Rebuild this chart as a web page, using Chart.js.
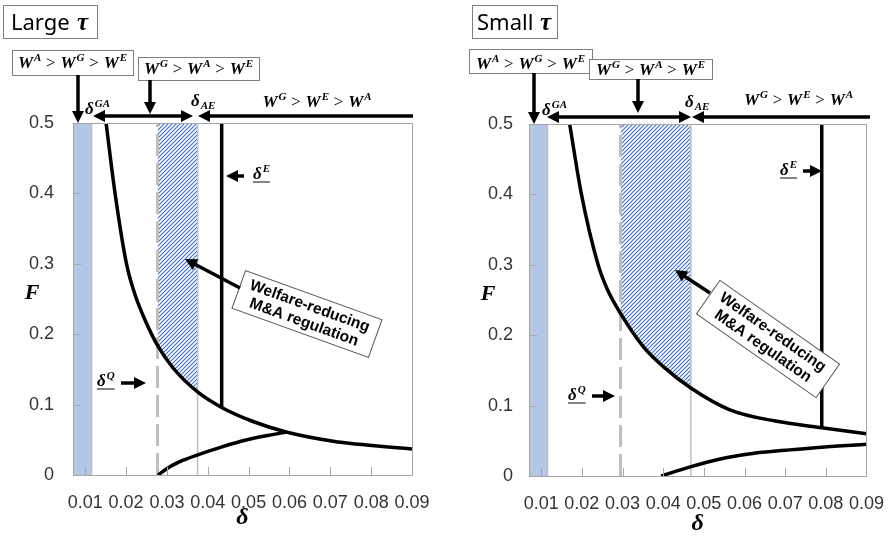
<!DOCTYPE html>
<html>
<head>
<meta charset="utf-8">
<script src="https://cdn.jsdelivr.net/npm/chart.js@4.4.1/dist/chart.umd.min.js"></script>
<style>
  html, body { margin: 0; padding: 0; background: #fff; }
  #wrap { position: relative; width: 893px; height: 536px; overflow: hidden; }
  canvas { position: absolute; top: 0; }
</style>
</head>
<body>
<div id="wrap">
  <canvas id="large" width="445" height="536" style="left:0"></canvas>
  <canvas id="small" width="448" height="536" style="left:445px"></canvas>
</div>
<script>
// axes
const xTicks = [0.01, 0.02, 0.03, 0.04, 0.05, 0.06, 0.07, 0.08, 0.09];
const yTicks = [0, 0.1, 0.2, 0.3, 0.4, 0.5];
const deltaRange = [0.007, 0.09];
const fRange = [0, 0.5];

// Large tau
const largeUpperDelta = [0.0151, 0.0173, 0.0201, 0.0222, 0.0245, 0.0277, 0.0315, 0.0375, 0.0434, 0.0511, 0.0592, 0.0707, 0.09];
const largeUpperF     = [0.5, 0.4, 0.3, 0.256, 0.222, 0.184, 0.152, 0.118, 0.096, 0.076, 0.061, 0.048, 0.037];
const largeLowerDelta = [0.0278, 0.0308, 0.0340, 0.0372, 0.0435, 0.0496, 0.0550, 0.0592];
const largeLowerF     = [0, 0.012, 0.021, 0.028, 0.040, 0.050, 0.0565, 0.061];
const largeCuts = [0.0115, 0.0277, 0.0375, 0.0434]; // delta GA, delta Q, delta AE, delta E
const largeDeltaEFloor = 0.096;

// Small tau
const smallUpperDelta = [0.0170, 0.0199, 0.0240, 0.0262, 0.0295, 0.0352, 0.0401, 0.0468, 0.0564, 0.0676, 0.0790, 0.09];
const smallUpperF     = [0.5, 0.4, 0.3, 0.266, 0.231, 0.183, 0.155, 0.125, 0.094, 0.078, 0.0685, 0.060];
const smallLowerDelta = [0.0395, 0.0467, 0.0535, 0.0620, 0.0700, 0.0790, 0.09];
const smallLowerF     = [0, 0.013, 0.0235, 0.032, 0.0365, 0.041, 0.045];
const smallCuts = [0.0115, 0.0295, 0.0468, 0.0790];
const smallDeltaEFloor = 0.0685;

const SERIF = '"Liberation Serif", "DejaVu Serif", serif';
const SANS = '"Liberation Sans", Arial, sans-serif';

function zip(xs, ys) { return xs.map((x, i) => ({ x: x, y: ys[i] })); }
function vline(x, y0, y1) { return [{ x: x, y: y0 }, { x: x, y: y1 }]; }

function hatch() {
  const c = document.createElement('canvas');
  c.width = 4; c.height = 4;
  const p = c.getContext('2d');
  p.fillStyle = '#fff';
  p.fillRect(0, 0, 4, 4);
  p.strokeStyle = '#3f6fcc';
  p.lineWidth = 1.1;
  p.beginPath();
  p.moveTo(-1, 5); p.lineTo(5, -1);
  p.moveTo(-1, 1); p.lineTo(1, -1);
  p.moveTo(3, 5); p.lineTo(5, 3);
  p.stroke();
  return p.createPattern(c, 'repeat');
}

// ---- drawing helpers for the overlay ----
function drawMath(ctx, str, x, y, size, align) {
  const fb = 'italic bold ' + size + 'px ' + SERIF;
  const fs = 'italic bold ' + Math.round(size * 0.66) + 'px ' + SERIF;
  const fo = size + 'px ' + SERIF;
  const gap = size * 0.28;
  const items = [];
  let w = 0;
  str.split(' ').forEach(tok => {
    if (tok === '>') {
      ctx.font = fo;
      items.push({ t: '>', f: fo, dx: w + gap, dy: 0 });
      w += ctx.measureText('>').width + 2 * gap;
      return;
    }
    const m = tok.match(/^(.)([\^_]?)(.*)$/);
    ctx.font = fb;
    items.push({ t: m[1], f: fb, dx: w, dy: 0 });
    w += ctx.measureText(m[1]).width + 1;
    if (m[3]) {
      ctx.font = fs;
      items.push({ t: m[3], f: fs, dx: w, dy: m[2] === '^' ? -size * 0.42 : size * 0.2 });
      w += ctx.measureText(m[3]).width;
    }
  });
  const x0 = align === 'center' ? x - w / 2 : x;
  ctx.save();
  ctx.textAlign = 'left';
  ctx.textBaseline = 'alphabetic';
  ctx.fillStyle = '#000';
  items.forEach(it => { ctx.font = it.f; ctx.fillText(it.t, x0 + it.dx, y + it.dy); });
  ctx.restore();
  return w;
}

function underlined(ctx, str, x, y, size) {
  const w = drawMath(ctx, str, x, y, size, 'left');
  ctx.save();
  ctx.strokeStyle = '#333';
  ctx.lineWidth = 1.2;
  ctx.beginPath();
  ctx.moveTo(x, y + 3); ctx.lineTo(x + w, y + 3);
  ctx.stroke();
  ctx.restore();
}

function box(ctx, x, y, w, h) {
  ctx.save();
  ctx.fillStyle = '#fff';
  ctx.fillRect(x, y, w, h);
  ctx.strokeStyle = '#7f7f7f';
  ctx.lineWidth = 1;
  ctx.strokeRect(x + 0.5, y + 0.5, w, h);
  ctx.restore();
}

function head(ctx, x, y, a, hl, hw) {
  ctx.beginPath();
  ctx.moveTo(x, y);
  ctx.lineTo(x - hl * Math.cos(a) + hw / 2 * Math.sin(a), y - hl * Math.sin(a) - hw / 2 * Math.cos(a));
  ctx.lineTo(x - hl * Math.cos(a) - hw / 2 * Math.sin(a), y - hl * Math.sin(a) + hw / 2 * Math.cos(a));
  ctx.closePath();
  ctx.fill();
}

function arrow(ctx, x1, y1, x2, y2, both) {
  const hl = 12, hw = 12;
  const a = Math.atan2(y2 - y1, x2 - x1);
  const c = Math.cos(a), s = Math.sin(a);
  ctx.save();
  ctx.strokeStyle = ctx.fillStyle = '#000';
  ctx.lineWidth = 3.5;
  ctx.beginPath();
  ctx.moveTo(both ? x1 + c * hl * 0.8 : x1, both ? y1 + s * hl * 0.8 : y1);
  ctx.lineTo(x2 - c * hl * 0.8, y2 - s * hl * 0.8);
  ctx.stroke();
  head(ctx, x2, y2, a, hl, hw);
  if (both) head(ctx, x1, y1, a + Math.PI, hl, hw);
  ctx.restore();
}

function noteBox(ctx, cx, cy, w, h, deg) {
  ctx.save();
  ctx.translate(cx, cy);
  ctx.rotate(deg * Math.PI / 180);
  ctx.fillStyle = '#fff';
  ctx.fillRect(-w / 2, -h / 2, w, h);
  ctx.strokeStyle = '#555';
  ctx.lineWidth = 1;
  ctx.strokeRect(-w / 2, -h / 2, w, h);
  ctx.fillStyle = '#000';
  ctx.font = 'bold 15.5px ' + SANS;
  ctx.textAlign = 'center';
  ctx.textBaseline = 'middle';
  ctx.fillText('Welfare-reducing', 0, -8);
  ctx.fillText('M&A regulation', 0, 9);
  ctx.restore();
}

function panelTitle(ctx, x, y, w, h, word, tx, taux) {
  box(ctx, x, y, w, h);
  ctx.save();
  ctx.fillStyle = '#000';
  ctx.textBaseline = 'alphabetic';
  ctx.font = '22px "Noto Sans", ' + SANS;
  ctx.fillText(word, tx, 30);
  ctx.font = 'italic bold 25px ' + SERIF;
  ctx.fillText('τ', taux, 30);
  ctx.restore();
}

function yTitle(ctx, x, y) {
  ctx.save();
  ctx.fillStyle = '#000';
  ctx.font = 'italic bold 22px ' + SERIF;
  ctx.textAlign = 'center';
  ctx.textBaseline = 'middle';
  ctx.fillText('F', x, y);
  ctx.restore();
}

function drawLarge(ctx) {
  panelTitle(ctx, 3, 5, 94, 33, 'Large', 11, 77);
  box(ctx, 12, 50, 121, 25);
  drawMath(ctx, 'W^A > W^G > W^E', 72.5, 68, 17, 'center');
  arrow(ctx, 78, 75, 78, 123);
  box(ctx, 138, 57, 121, 23);
  drawMath(ctx, 'W^G > W^A > W^E', 198.5, 74, 17, 'center');
  arrow(ctx, 150, 80, 150, 114);
  drawMath(ctx, 'δ^GA', 85, 114, 17, 'left');
  arrow(ctx, 93, 116, 193, 116, true);
  drawMath(ctx, 'δ_AE', 191, 106, 17, 'left');
  arrow(ctx, 413, 116, 198, 116);
  drawMath(ctx, 'W^G > W^E > W^A', 317, 107, 17, 'center');
  arrow(ctx, 244, 176, 226, 176);
  underlined(ctx, 'δ^E', 253, 179, 17);
  underlined(ctx, 'δ^Q', 97, 386, 17);
  arrow(ctx, 121, 383, 146, 383);
  noteBox(ctx, 307, 314, 145, 40, 19.8);
  arrow(ctx, 240, 288, 185, 259);
  yTitle(ctx, 32, 293);
}

function drawSmall(ctx) {
  panelTitle(ctx, 27, 5, 85, 33, 'Small', 32, 95);
  box(ctx, 24, 49, 123, 24);
  drawMath(ctx, 'W^A > W^G > W^E', 85.5, 69, 17, 'center');
  box(ctx, 144, 59, 123, 20);
  drawMath(ctx, 'W^G > W^A > W^E', 205.5, 75, 17, 'center');
  arrow(ctx, 89, 73, 89, 124);
  arrow(ctx, 193, 79, 193, 113);
  drawMath(ctx, 'δ^GA', 97, 115, 17, 'left');
  arrow(ctx, 102, 117, 246, 117, true);
  drawMath(ctx, 'δ_AE', 240, 107, 17, 'left');
  arrow(ctx, 425, 117, 247, 117);
  drawMath(ctx, 'W^G > W^E > W^A', 353.5, 105, 17, 'center');
  underlined(ctx, 'δ^E', 335, 175, 17);
  arrow(ctx, 358, 171, 377, 171);
  underlined(ctx, 'δ^Q', 123, 400, 17);
  arrow(ctx, 147, 396, 170, 396);
  noteBox(ctx, 323, 339, 146, 41, 35);
  arrow(ctx, 265, 293, 230, 270);
  yTitle(ctx, 43, 294);
}

// frame and inward tick marks
const frameTicks = {
  id: 'frameTicks',
  afterDatasetsDraw(chart) {
    const { ctx, chartArea: a, scales: { x, y } } = chart;
    ctx.save();
    ctx.strokeStyle = '#a6a6a6';
    ctx.lineWidth = 1;
    ctx.beginPath();
    x.ticks.forEach(t => {
      const px = Math.round(x.getPixelForValue(t.value)) + 0.5;
      ctx.moveTo(px, a.bottom); ctx.lineTo(px, a.bottom - 8);
    });
    y.ticks.forEach(t => {
      const py = Math.round(y.getPixelForValue(t.value)) + 0.5;
      ctx.moveTo(a.left, py); ctx.lineTo(a.left + 8, py);
    });
    ctx.stroke();
    ctx.strokeRect(Math.round(a.left) + 0.5, Math.round(a.top) + 0.5,
                   Math.round(a.right - a.left), Math.round(a.bottom - a.top));
    ctx.restore();
  }
};

function makePanel(id, upD, upF, loD, loF, cuts, eFloor, lay, overlay) {
  const upper = zip(upD, upF);
  const lower = zip(loD, loF);
  const shaded = upper.filter(p => p.x >= cuts[1] && p.x <= cuts[2]);
  const pattern = hatch();
  const curve = { borderColor: '#000', borderWidth: 3.5, cubicInterpolationMode: 'monotone', fill: false };
  return new Chart(document.getElementById(id), {
    type: 'scatter',
    data: {
      datasets: [
        Object.assign({ data: upper }, curve),
        Object.assign({ data: lower }, curve),
        { data: vline(cuts[3], eFloor, fRange[1]), borderColor: '#000', borderWidth: 3.5, fill: false },
        { data: vline(cuts[1], fRange[0], fRange[1]), borderColor: '#bfbfbf', borderWidth: 3, borderDash: [22, 7], fill: false },
        { data: vline(cuts[2], fRange[0], fRange[1]), borderColor: '#bfbfbf', borderWidth: 1.5, fill: false },
        { data: vline(cuts[0], fRange[0], fRange[1]), borderColor: '#bfbfbf', borderWidth: 2, fill: false },
        { data: shaded, borderWidth: 0, borderColor: 'rgba(0,0,0,0)', backgroundColor: pattern, fill: 'end', cubicInterpolationMode: 'monotone' },
        { data: [{ x: deltaRange[0], y: fRange[1] }, { x: cuts[0], y: fRange[1] }], borderWidth: 0, borderColor: 'rgba(0,0,0,0)', backgroundColor: '#b4c7e7', fill: 'origin' }
      ]
    },
    options: {
      responsive: false,
      animation: false,
      showLine: true,
      elements: { point: { radius: 0, hoverRadius: 0 }, line: { tension: 0 } },
      layout: { padding: { top: lay.top, right: lay.right, left: 0, bottom: 0 } },
      plugins: { legend: { display: false }, tooltip: { enabled: false } },
      scales: {
        x: {
          type: 'linear',
          min: deltaRange[0],
          max: deltaRange[1],
          afterBuildTicks: s => { s.ticks = xTicks.map(v => ({ value: v })); },
          afterFit: s => { s.height = lay.xh; },
          grid: { display: false },
          border: { display: false },
          ticks: { autoSkip: false, maxRotation: 0, padding: 9, color: '#333',
                   font: { family: SANS, size: 18 }, callback: v => v.toFixed(2) },
          title: { display: true, text: 'δ', color: '#000',
                   font: { family: SERIF, size: 24, style: 'italic', weight: 'bold', lineHeight: 1 },
                   padding: { top: 0, bottom: lay.tpad } }
        },
        y: {
          min: fRange[0],
          max: fRange[1],
          afterBuildTicks: s => { s.ticks = yTicks.map(v => ({ value: v })); },
          afterFit: s => { s.width = lay.yw; },
          grid: { display: false },
          border: { display: false },
          ticks: { padding: lay.ypad, color: '#333', font: { family: SANS, size: 18 },
                   callback: v => String(+v.toFixed(1)) }
        }
      }
    },
    plugins: [frameTicks, { id: 'overlay', afterDraw: c => overlay(c.ctx) }]
  });
}

makePanel('large', largeUpperDelta, largeUpperF, largeLowerDelta, largeLowerF, largeCuts, largeDeltaEFloor,
  { top: 123, right: 33, xh: 61, yw: 73, ypad: 11, tpad: 6 }, drawLarge);
makePanel('small', smallUpperDelta, smallUpperF, smallLowerDelta, smallLowerF, smallCuts, smallDeltaEFloor,
  { top: 124, right: 23, xh: 60, yw: 84, ypad: 8, tpad: 0 }, drawSmall);
</script>
</body>
</html>
